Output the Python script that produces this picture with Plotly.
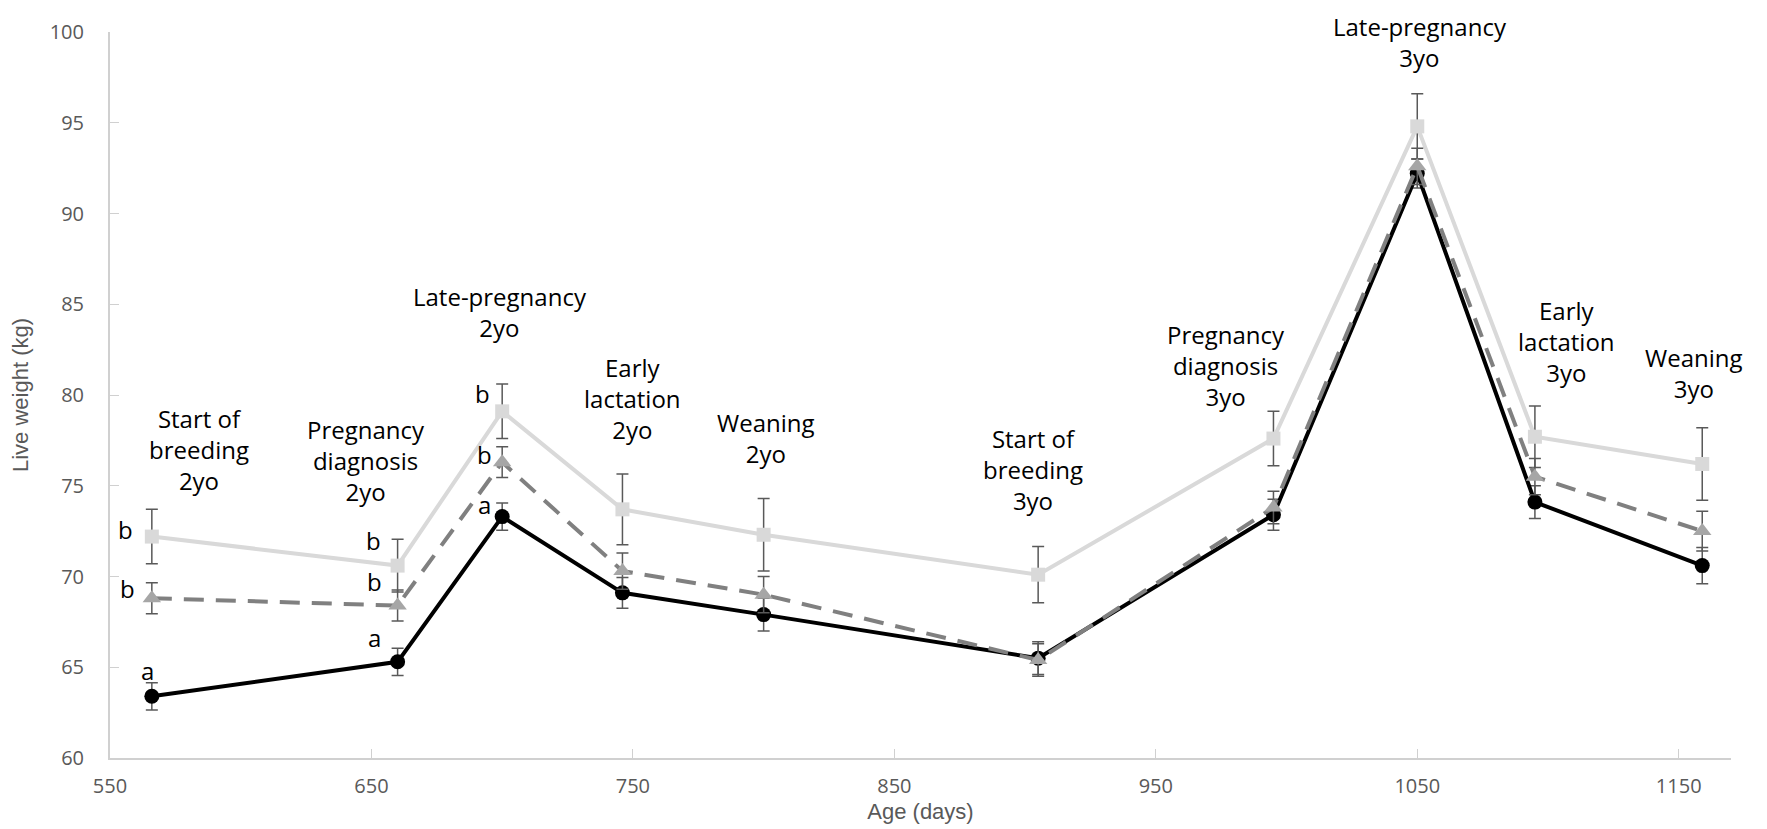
import plotly.graph_objects as go

# ---- data ----
age_days = [566, 660, 700, 746, 800, 905, 995, 1050, 1095, 1159]
stage_labels = ["Start of<br>breeding<br>2yo", "Pregnancy<br>diagnosis<br>2yo", "Late-pregnancy<br>2yo",
                "Early<br>lactation<br>2yo", "Weaning<br>2yo", "Start of<br>breeding<br>3yo",
                "Pregnancy<br>diagnosis<br>3yo", "Late-pregnancy<br>3yo", "Early<br>lactation<br>3yo",
                "Weaning<br>3yo"]
label_x = [584, 648, 699, 750, 801, 903, 977, 1051, 1107, 1156]
label_y = [77.0, 76.4, 84.6, 79.8, 77.65, 75.9, 81.65, 99.45, 82.95, 81.2]

sq_vals = [72.2, 70.6, 79.1, 73.7, 72.3, 70.1, 77.6, 94.8, 77.7, 76.2]
sq_err = [1.5, 1.45, 1.5, 1.95, 2.0, 1.55, 1.5, 1.8, 1.7, 2.0]
tri_vals = [68.8, 68.4, 76.3, 70.3, 69.0, 65.4, 73.8, 92.6, 75.5, 72.5]
tri_err = [0.85, 0.85, 0.85, 1.0, 1.0, 0.9, 0.9, 1.0, 1.0, 1.1]
blk_vals = [63.4, 65.3, 73.3, 69.1, 67.9, 65.5, 73.4, 92.2, 74.1, 70.6]
blk_err = [0.75, 0.75, 0.75, 0.85, 0.9, 0.9, 0.85, 0.8, 0.9, 1.0]

# significance letters (first three stages)
sig_sq = ["b", "b", "b"]
sig_tri = ["b", "b", "b"]
sig_blk = ["a", "a", "a"]

x_ticks = [550, 650, 750, 850, 950, 1050, 1150]
y_ticks = [60, 65, 70, 75, 80, 85, 90, 95, 100]

FONT = "Open Sans"
TITLE_FONT = "Liberation Sans Narrow, Liberation Sans"
ERRC = "#595959"
AXC = "#d0d0d0"

fig = go.Figure()

fig.add_trace(go.Scatter(
    x=age_days, y=sq_vals, mode="lines+markers",
    line=dict(color="#d9d9d9", width=4),
    marker=dict(symbol="square", size=14, color="#d9d9d9"),
    error_y=dict(type="data", array=sq_err, color=ERRC, thickness=1.5, width=6),
    showlegend=False))

fig.add_trace(go.Scatter(
    x=age_days, y=blk_vals, mode="lines+markers",
    line=dict(color="#000000", width=4),
    marker=dict(symbol="circle", size=15, color="#000000"),
    error_y=dict(type="data", array=blk_err, color=ERRC, thickness=1.5, width=6),
    showlegend=False))

fig.add_trace(go.Scatter(
    x=age_days, y=tri_vals, mode="lines+markers",
    line=dict(color="#808080", width=4, dash="20px,12px"),
    marker=dict(symbol="triangle-up", size=16, color="#a6a6a6"),
    error_y=dict(type="data", array=tri_err, color=ERRC, thickness=1.5, width=6),
    showlegend=False))

annotations = []
for lx, ly, txt in zip(label_x, label_y, stage_labels):
    annotations.append(dict(x=lx, y=ly, xref="x", yref="y", text=txt, showarrow=False,
                            font=dict(family=FONT, size=24, color="#000000"),
                            xanchor="center", yanchor="middle", align="center"))

sq_shift = [(-26, 7), (-24, 25), (-20, 18)]
tri_shift = [(-24, 10), (-23, 24), (-18, 8)]
blk_shift = [(-4, 26), (-23, 24), (-18, 12)]
for i in range(3):
    for vals, sig, shifts in ((sq_vals, sig_sq, sq_shift), (tri_vals, sig_tri, tri_shift),
                              (blk_vals, sig_blk, blk_shift)):
        annotations.append(dict(x=age_days[i], y=vals[i], xref="x", yref="y", text=sig[i],
                                showarrow=False, xshift=shifts[i][0], yshift=shifts[i][1],
                                font=dict(family=FONT, size=24, color="#000000"),
                                xanchor="center", yanchor="middle"))

fig.update_layout(
    width=1767, height=829,
    margin=dict(l=102, r=44, t=24, b=79),
    paper_bgcolor="white", plot_bgcolor="white",
    annotations=annotations,
    showlegend=False,
)

fig.update_xaxes(
    range=[550, 1170], tickvals=x_ticks, ticktext=[str(v) for v in x_ticks],
    showgrid=False, zeroline=False, showline=True, linecolor=AXC, linewidth=2,
    ticks="inside", ticklen=9, tickcolor=AXC, tickwidth=1.2,
    tickfont=dict(family=FONT, size=20, color="#595959"),
    ticklabelstandoff=9, automargin=False,
    title=dict(text="Age (days)", font=dict(family=TITLE_FONT, size=22, color="#595959"),
               standoff=6),
)
fig.update_yaxes(
    range=[60, 100], tickvals=y_ticks, ticktext=[str(v) for v in y_ticks],
    showgrid=False, zeroline=False, showline=True, linecolor=AXC, linewidth=2,
    ticks="inside", ticklen=9, tickcolor=AXC, tickwidth=1.2,
    tickfont=dict(family=FONT, size=20, color="#595959"),
    ticklabelstandoff=20, automargin=False,
    title=dict(text="Live weight (kg)", font=dict(family=TITLE_FONT, size=22, color="#595959"),
               standoff=18),
)

fig.write_html("out.html")
